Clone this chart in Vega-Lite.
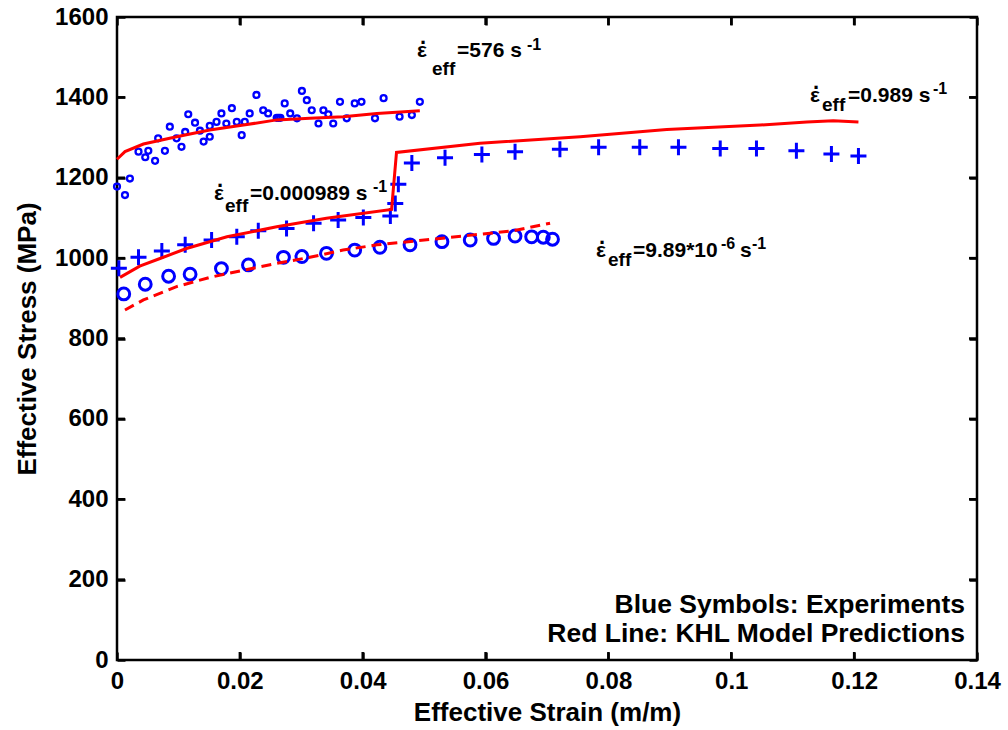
{
  "$schema": "https://vega.github.io/schema/vega-lite/v6.json",
  "width": 860,
  "height": 643,
  "autosize": "none",
  "padding": {"left": 117, "top": 17, "right": 31, "bottom": 70},
  "background": "white",
  "config": {
    "view": {"stroke": "black", "strokeWidth": 2.5},
    "font": "Liberation Sans",
    "axis": {
      "grid": false,
      "domain": false,
      "labelFlush": false,
      "tickColor": "black",
      "tickWidth": 2.5,
      "tickSize": -8,
      "labelFont": "Liberation Sans",
      "labelFontWeight": "bold",
      "labelFontSize": 24,
      "labelColor": "black",
      "titleFont": "Liberation Sans",
      "titleFontWeight": "bold",
      "titleFontSize": 26,
      "titleColor": "black"
    }
  },
  "datasets": {
    "exp576": [
      {"strain": 0.0000, "stress": 1178}, {"strain": 0.0013, "stress": 1157}, {"strain": 0.0021, "stress": 1198},
      {"strain": 0.0035, "stress": 1265}, {"strain": 0.0046, "stress": 1251}, {"strain": 0.0051, "stress": 1267},
      {"strain": 0.0062, "stress": 1242}, {"strain": 0.0067, "stress": 1298}, {"strain": 0.0078, "stress": 1267},
      {"strain": 0.0086, "stress": 1327}, {"strain": 0.0097, "stress": 1298}, {"strain": 0.0105, "stress": 1277},
      {"strain": 0.0111, "stress": 1314}, {"strain": 0.0116, "stress": 1358}, {"strain": 0.0127, "stress": 1337},
      {"strain": 0.0135, "stress": 1317}, {"strain": 0.0141, "stress": 1290}, {"strain": 0.0151, "stress": 1302},
      {"strain": 0.0151, "stress": 1329}, {"strain": 0.0162, "stress": 1339}, {"strain": 0.0170, "stress": 1360},
      {"strain": 0.0178, "stress": 1335}, {"strain": 0.0187, "stress": 1373}, {"strain": 0.0195, "stress": 1339},
      {"strain": 0.0203, "stress": 1306}, {"strain": 0.0208, "stress": 1339}, {"strain": 0.0216, "stress": 1360},
      {"strain": 0.0227, "stress": 1406}, {"strain": 0.0238, "stress": 1368}, {"strain": 0.0246, "stress": 1360},
      {"strain": 0.0260, "stress": 1349}, {"strain": 0.0263, "stress": 1349}, {"strain": 0.0266, "stress": 1349},
      {"strain": 0.0273, "stress": 1385}, {"strain": 0.0282, "stress": 1360}, {"strain": 0.0293, "stress": 1348},
      {"strain": 0.0301, "stress": 1416}, {"strain": 0.0309, "stress": 1393}, {"strain": 0.0317, "stress": 1368},
      {"strain": 0.0328, "stress": 1335}, {"strain": 0.0336, "stress": 1368}, {"strain": 0.0344, "stress": 1358},
      {"strain": 0.0352, "stress": 1335}, {"strain": 0.0363, "stress": 1389}, {"strain": 0.0374, "stress": 1348},
      {"strain": 0.0387, "stress": 1385}, {"strain": 0.0398, "stress": 1389}, {"strain": 0.0420, "stress": 1348},
      {"strain": 0.0434, "stress": 1398}, {"strain": 0.0460, "stress": 1352}, {"strain": 0.0480, "stress": 1356},
      {"strain": 0.0493, "stress": 1389}
    ],
    "expCross": [
      {"strain": 0.0003, "stress": 975}, {"strain": 0.0035, "stress": 1002}, {"strain": 0.0073, "stress": 1018},
      {"strain": 0.0111, "stress": 1033}, {"strain": 0.0154, "stress": 1045}, {"strain": 0.0195, "stress": 1053},
      {"strain": 0.0230, "stress": 1068}, {"strain": 0.0276, "stress": 1074}, {"strain": 0.0320, "stress": 1087},
      {"strain": 0.0360, "stress": 1095}, {"strain": 0.0401, "stress": 1101}, {"strain": 0.0445, "stress": 1105},
      {"strain": 0.0453, "stress": 1136}, {"strain": 0.0458, "stress": 1184}, {"strain": 0.0480, "stress": 1237},
      {"strain": 0.0534, "stress": 1250}, {"strain": 0.0594, "stress": 1258}, {"strain": 0.0648, "stress": 1265},
      {"strain": 0.0721, "stress": 1271}, {"strain": 0.0784, "stress": 1276}, {"strain": 0.0851, "stress": 1276},
      {"strain": 0.0914, "stress": 1276}, {"strain": 0.0982, "stress": 1273}, {"strain": 0.1041, "stress": 1273},
      {"strain": 0.1106, "stress": 1267}, {"strain": 0.1163, "stress": 1259}, {"strain": 0.1207, "stress": 1254}
    ],
    "expCircle": [
      {"strain": 0.0011, "stress": 911}, {"strain": 0.0046, "stress": 935}, {"strain": 0.0084, "stress": 955},
      {"strain": 0.0119, "stress": 960}, {"strain": 0.0170, "stress": 974}, {"strain": 0.0214, "stress": 983},
      {"strain": 0.0271, "stress": 1002}, {"strain": 0.0301, "stress": 1004}, {"strain": 0.0341, "stress": 1012},
      {"strain": 0.0387, "stress": 1020}, {"strain": 0.0428, "stress": 1027}, {"strain": 0.0477, "stress": 1033},
      {"strain": 0.0529, "stress": 1041}, {"strain": 0.0575, "stress": 1045}, {"strain": 0.0613, "stress": 1049},
      {"strain": 0.0648, "stress": 1055}, {"strain": 0.0675, "stress": 1053}, {"strain": 0.0694, "stress": 1052},
      {"strain": 0.0709, "stress": 1047}
    ],
    "khl576": [
      {"strain": 0.0000, "stress": 1246}, {"strain": 0.0013, "stress": 1265}, {"strain": 0.0043, "stress": 1284},
      {"strain": 0.0097, "stress": 1302}, {"strain": 0.0151, "stress": 1319}, {"strain": 0.0206, "stress": 1331},
      {"strain": 0.0260, "stress": 1344}, {"strain": 0.0314, "stress": 1348}, {"strain": 0.0368, "stress": 1352},
      {"strain": 0.0423, "stress": 1360}, {"strain": 0.0493, "stress": 1367}
    ],
    "khlStep": [
      {"strain": 0.0005, "stress": 952}, {"strain": 0.0037, "stress": 980}, {"strain": 0.0070, "stress": 999},
      {"strain": 0.0113, "stress": 1024}, {"strain": 0.0179, "stress": 1053}, {"strain": 0.0260, "stress": 1078},
      {"strain": 0.0341, "stress": 1099}, {"strain": 0.0447, "stress": 1121}, {"strain": 0.0455, "stress": 1263},
      {"strain": 0.0591, "stress": 1286}, {"strain": 0.0754, "stress": 1302}, {"strain": 0.0895, "stress": 1320},
      {"strain": 0.1047, "stress": 1331}, {"strain": 0.1123, "stress": 1339}, {"strain": 0.1166, "stress": 1342},
      {"strain": 0.1207, "stress": 1339}
    ],
    "khlSlow": [
      {"strain": 0.0013, "stress": 871}, {"strain": 0.0043, "stress": 896}, {"strain": 0.0097, "stress": 929},
      {"strain": 0.0151, "stress": 952}, {"strain": 0.0206, "stress": 970}, {"strain": 0.0260, "stress": 987},
      {"strain": 0.0314, "stress": 1002}, {"strain": 0.0368, "stress": 1020}, {"strain": 0.0423, "stress": 1033},
      {"strain": 0.0526, "stress": 1049}, {"strain": 0.0645, "stress": 1068}, {"strain": 0.0705, "stress": 1087}
    ],
    "xTicks": [
      {"strain": 0.02}, {"strain": 0.04}, {"strain": 0.06}, {"strain": 0.08}, {"strain": 0.1}, {"strain": 0.12}
    ],
    "yTicks": [
      {"stress": 200}, {"stress": 400}, {"stress": 600}, {"stress": 800}, {"stress": 1000}, {"stress": 1200}, {"stress": 1400}
    ],
    "labels": [
      {"kind": "eps", "strain": 0.04884, "stress": 1500, "t": "ε"},
      {"kind": "dot", "strain": 0.04981, "stress": 1533, "t": "."},
      {"kind": "sub", "strain": 0.05128, "stress": 1456, "t": "eff"},
      {"kind": "main", "strain": 0.05535, "stress": 1500, "t": "=576 s"},
      {"kind": "sup", "strain": 0.06674, "stress": 1518, "t": "-1"},
      {"kind": "eps", "strain": 0.01579, "stress": 1145, "t": "ε"},
      {"kind": "dot", "strain": 0.01677, "stress": 1177, "t": "."},
      {"kind": "sub", "strain": 0.01758, "stress": 1115, "t": "eff"},
      {"kind": "main", "strain": 0.02165, "stress": 1145, "t": "=0.000989 s"},
      {"kind": "sup", "strain": 0.04167, "stress": 1165, "t": "-1"},
      {"kind": "eps", "strain": 0.11281, "stress": 1388, "t": "ε"},
      {"kind": "dot", "strain": 0.11379, "stress": 1421, "t": "."},
      {"kind": "sub", "strain": 0.11477, "stress": 1366, "t": "eff"},
      {"kind": "main", "strain": 0.11900, "stress": 1388, "t": "=0.989 s"},
      {"kind": "sup", "strain": 0.13284, "stress": 1408, "t": "-1"},
      {"kind": "eps", "strain": 0.07798, "stress": 1003, "t": "ε"},
      {"kind": "dot", "strain": 0.07895, "stress": 1035, "t": "."},
      {"kind": "sub", "strain": 0.07993, "stress": 980, "t": "eff"},
      {"kind": "main", "strain": 0.08400, "stress": 1003, "t": "=9.89*10"},
      {"kind": "sup", "strain": 0.09833, "stress": 1023, "t": "-6"},
      {"kind": "main", "strain": 0.10142, "stress": 1003, "t": "s"},
      {"kind": "sup", "strain": 0.10337, "stress": 1023, "t": "-1"}
    ],
    "legendText": [
      {"strain": 0.13805, "stress": 117, "t": "Blue Symbols: Experiments"},
      {"strain": 0.13805, "stress": 45, "t": "Red Line: KHL Model Predictions"}
    ]
  },
  "resolve": {"axis": {"x": "independent", "y": "independent"}},
  "layer": [
    {
      "data": {"name": "exp576"},
      "mark": {"type": "point", "shape": "circle", "filled": false, "color": "#0000ff", "size": 35, "strokeWidth": 2.3, "opacity": 1},
      "encoding": {
        "x": {"field": "strain", "type": "quantitative", "scale": {"domain": [0, 0.14], "nice": false, "zero": false},
              "axis": {"orient": "bottom", "values": [0, 0.02, 0.04, 0.06, 0.08, 0.1, 0.12, 0.14], "format": "~g", "labelFlush": false, "title": "Effective Strain (m/m)", "labelPadding": 17, "titlePadding": 6}},
        "y": {"field": "stress", "type": "quantitative", "scale": {"domain": [0, 1600], "nice": false, "zero": false},
              "axis": {"orient": "left", "values": [0, 200, 400, 600, 800, 1000, 1200, 1400, 1600], "format": "d", "labelFlush": false, "title": "Effective Stress (MPa)", "labelPadding": 17, "titlePadding": 14}}
      }
    },
    {
      "data": {"name": "expCross"},
      "mark": {"type": "point", "shape": "M-1,0L1,0M0,-1L0,1", "filled": false, "color": "#0000ff", "size": 256, "strokeWidth": 3, "opacity": 1},
      "encoding": {
        "x": {"field": "strain", "type": "quantitative", "axis": {"orient": "top", "values": [0, 0.02, 0.04, 0.06, 0.08, 0.1, 0.12, 0.14], "labels": false, "title": null}},
        "y": {"field": "stress", "type": "quantitative", "axis": {"orient": "right", "values": [0, 200, 400, 600, 800, 1000, 1200, 1400, 1600], "labels": false, "title": null}}
      }
    },
    {
      "data": {"name": "expCircle"},
      "mark": {"type": "point", "shape": "circle", "filled": false, "color": "#0000ff", "size": 140, "strokeWidth": 3, "opacity": 1},
      "encoding": {
        "x": {"field": "strain", "type": "quantitative", "axis": null},
        "y": {"field": "stress", "type": "quantitative", "axis": null}
      }
    },
    {
      "data": {"name": "khl576"},
      "mark": {"type": "line", "color": "#ff0000", "strokeWidth": 3},
      "encoding": {
        "x": {"field": "strain", "type": "quantitative", "axis": null},
        "y": {"field": "stress", "type": "quantitative", "axis": null}
      }
    },
    {
      "data": {"name": "khlStep"},
      "mark": {"type": "line", "color": "#ff0000", "strokeWidth": 3},
      "encoding": {
        "x": {"field": "strain", "type": "quantitative", "axis": null},
        "y": {"field": "stress", "type": "quantitative", "axis": null}
      }
    },
    {
      "data": {"name": "khlSlow"},
      "mark": {"type": "line", "color": "#ff0000", "strokeWidth": 3, "strokeDash": [10, 6]},
      "encoding": {
        "x": {"field": "strain", "type": "quantitative", "axis": null},
        "y": {"field": "stress", "type": "quantitative", "axis": null}
      }
    },
    {
      "data": {"name": "xTicks"},
      "mark": {"type": "tick", "orient": "vertical", "size": 8, "thickness": 2.5, "color": "black", "opacity": 1, "yOffset": -4},
      "encoding": {
        "x": {"field": "strain", "type": "quantitative", "axis": null},
        "y": {"datum": 0, "type": "quantitative", "axis": null}
      }
    },
    {
      "data": {"name": "xTicks"},
      "mark": {"type": "tick", "orient": "vertical", "size": 8, "thickness": 2.5, "color": "black", "opacity": 1, "yOffset": 4},
      "encoding": {
        "x": {"field": "strain", "type": "quantitative", "axis": null},
        "y": {"datum": 1600, "type": "quantitative", "axis": null}
      }
    },
    {
      "data": {"name": "yTicks"},
      "mark": {"type": "tick", "orient": "horizontal", "size": 8, "thickness": 2.5, "color": "black", "opacity": 1, "xOffset": 4},
      "encoding": {
        "y": {"field": "stress", "type": "quantitative", "axis": null},
        "x": {"datum": 0, "type": "quantitative", "axis": null}
      }
    },
    {
      "data": {"name": "yTicks"},
      "mark": {"type": "tick", "orient": "horizontal", "size": 8, "thickness": 2.5, "color": "black", "opacity": 1, "xOffset": -4},
      "encoding": {
        "y": {"field": "stress", "type": "quantitative", "axis": null},
        "x": {"datum": 0.14, "type": "quantitative", "axis": null}
      }
    },
    {
      "data": {"name": "labels"},
      "transform": [{"filter": "datum.kind === 'eps'"}],
      "mark": {"type": "text", "align": "left", "baseline": "alphabetic", "fontSize": 21, "fontWeight": "bold", "font": "Liberation Sans", "color": "black"},
      "encoding": {
        "x": {"field": "strain", "type": "quantitative", "axis": null},
        "y": {"field": "stress", "type": "quantitative", "axis": null},
        "text": {"field": "t"}
      }
    },
    {
      "data": {"name": "labels"},
      "transform": [{"filter": "datum.kind === 'dot'"}],
      "mark": {"type": "text", "align": "center", "baseline": "alphabetic", "fontSize": 22, "fontWeight": "bold", "font": "Liberation Sans", "color": "black"},
      "encoding": {
        "x": {"field": "strain", "type": "quantitative", "axis": null},
        "y": {"field": "stress", "type": "quantitative", "axis": null},
        "text": {"field": "t"}
      }
    },
    {
      "data": {"name": "labels"},
      "transform": [{"filter": "datum.kind === 'sub'"}],
      "mark": {"type": "text", "align": "left", "baseline": "alphabetic", "fontSize": 19, "fontWeight": "bold", "font": "Liberation Sans", "color": "black"},
      "encoding": {
        "x": {"field": "strain", "type": "quantitative", "axis": null},
        "y": {"field": "stress", "type": "quantitative", "axis": null},
        "text": {"field": "t"}
      }
    },
    {
      "data": {"name": "labels"},
      "transform": [{"filter": "datum.kind === 'main'"}],
      "mark": {"type": "text", "align": "left", "baseline": "alphabetic", "fontSize": 21, "fontWeight": "bold", "font": "Liberation Sans", "color": "black"},
      "encoding": {
        "x": {"field": "strain", "type": "quantitative", "axis": null},
        "y": {"field": "stress", "type": "quantitative", "axis": null},
        "text": {"field": "t"}
      }
    },
    {
      "data": {"name": "labels"},
      "transform": [{"filter": "datum.kind === 'sup'"}],
      "mark": {"type": "text", "align": "left", "baseline": "alphabetic", "fontSize": 16, "fontWeight": "bold", "font": "Liberation Sans", "color": "black"},
      "encoding": {
        "x": {"field": "strain", "type": "quantitative", "axis": null},
        "y": {"field": "stress", "type": "quantitative", "axis": null},
        "text": {"field": "t"}
      }
    },
    {
      "data": {"name": "legendText"},
      "mark": {"type": "text", "align": "right", "baseline": "alphabetic", "fontSize": 26.5, "fontWeight": "bold", "font": "Liberation Sans", "color": "black"},
      "encoding": {
        "x": {"field": "strain", "type": "quantitative", "axis": null},
        "y": {"field": "stress", "type": "quantitative", "axis": null},
        "text": {"field": "t"}
      }
    }
  ]
}
